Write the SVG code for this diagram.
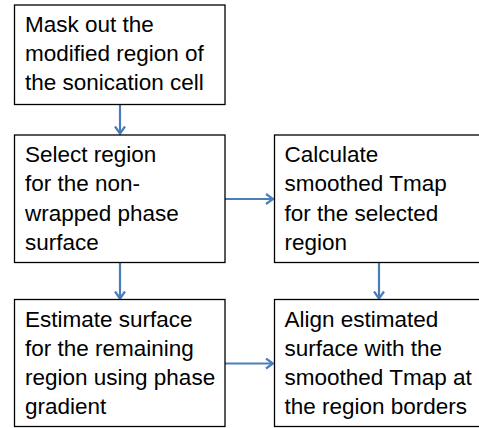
<svg xmlns="http://www.w3.org/2000/svg" width="479" height="428" viewBox="0 0 479 428">
<defs>
<style>
.box{fill:#fff;stroke:#000;stroke-width:1.3}
.t{font-family:"Liberation Sans",Arial,sans-serif;font-size:22.5px;fill:#000}
.c{stroke:#4a7ebb;stroke-width:2.2;fill:none}
</style>
<marker id="ah" viewBox="0 0 12 12" refX="10" refY="6" markerWidth="12" markerHeight="12" orient="auto" markerUnits="userSpaceOnUse">
<path d="M3,1 L10,6 L3,11" fill="none" stroke="#4a7ebb" stroke-width="2.2"/>
</marker>
</defs>
<rect width="479" height="428" fill="#fff"/>
<g id="connectors">
<line class="c" x1="120" y1="104.5" x2="120" y2="133.5" marker-end="url(#ah)"/>
<line class="c" x1="225" y1="199" x2="273" y2="199" marker-end="url(#ah)"/>
<line class="c" x1="120" y1="262.5" x2="120" y2="298.5" marker-end="url(#ah)"/>
<line class="c" x1="379" y1="262.5" x2="379" y2="298.5" marker-end="url(#ah)"/>
<line class="c" x1="225" y1="363.5" x2="273" y2="363.5" marker-end="url(#ah)"/>
</g>
<g id="n1">
<rect class="box" x="14.5" y="5" width="210.5" height="99.5"/>
<text class="t" x="25" y="31.5">Mask out the</text>
<text class="t" x="25" y="60.8">modified region of</text>
<text class="t" x="25" y="90.1">the sonication cell</text>
</g>
<g id="n2">
<rect class="box" x="14.5" y="135" width="210.5" height="127.5"/>
<text class="t" x="25" y="162">Select region</text>
<text class="t" x="25" y="191.3">for the non-</text>
<text class="t" x="25" y="220.6">wrapped phase</text>
<text class="t" x="25" y="249.9">surface</text>
</g>
<g id="n3">
<rect class="box" x="274.5" y="135" width="212" height="127.5"/>
<text class="t" x="284.5" y="162">Calculate</text>
<text class="t" x="284.5" y="191.3">smoothed Tmap</text>
<text class="t" x="284.5" y="220.6">for the selected</text>
<text class="t" x="284.5" y="249.9">region</text>
</g>
<g id="n4">
<rect class="box" x="14.5" y="299.5" width="210.5" height="127"/>
<text class="t" x="25" y="326.5">Estimate surface</text>
<text class="t" x="25" y="355.8">for the remaining</text>
<text class="t" x="25" y="385.1">region using phase</text>
<text class="t" x="25" y="414.4">gradient</text>
</g>
<g id="n5">
<rect class="box" x="274.5" y="299.5" width="212" height="127"/>
<text class="t" x="284.5" y="326.5">Align estimated</text>
<text class="t" x="284.5" y="355.8">surface with the</text>
<text class="t" x="284.5" y="385.1">smoothed Tmap at</text>
<text class="t" x="284.5" y="414.4">the region borders</text>
</g>
</svg>
